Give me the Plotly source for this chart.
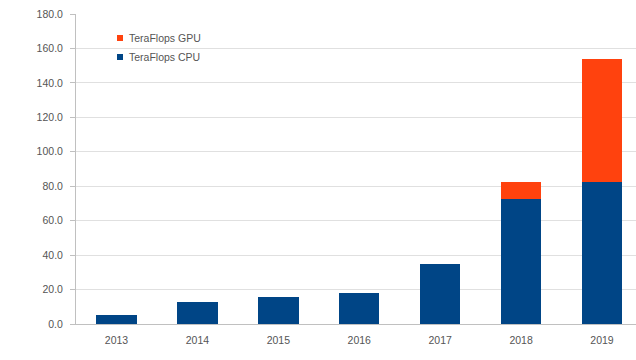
import plotly.graph_objects as go

years = ["2013", "2014", "2015", "2016", "2017", "2018", "2019"]
cpu_tflops = [5.2, 12.8, 15.7, 18.0, 34.9, 72.7, 82.6]
gpu_tflops = [0, 0, 0, 0, 0, 9.9, 71.4]
legend_labels = ["TeraFlops GPU", "TeraFlops CPU"]

CPU_COLOR = "#004586"
GPU_COLOR = "#ff420e"
TEXT = "#555555"
FONT = "Liberation Sans, Arial, sans-serif"

W, H = 636, 360
L, R, T, B = 76, 0, 14, 36
PW, PH = W - L - R, H - T - B


def px_x(px):
    return (px - L) / PW


def px_y(py):
    return (H - B - py) / PH


fig = go.Figure()
fig.add_trace(go.Bar(x=years, y=cpu_tflops, marker_color=CPU_COLOR,
                     marker_line_width=0, width=0.5, name="TeraFlops CPU"))
fig.add_trace(go.Bar(x=years, y=gpu_tflops, marker_color=GPU_COLOR,
                     marker_line_width=0, width=0.5, name="TeraFlops GPU"))

# Compact legend: small colour keys with labels beside them
shapes, annotations = [], []
for i, (label, color) in enumerate(zip(legend_labels, [GPU_COLOR, CPU_COLOR])):
    cy = 38 + i * 19
    shapes.append(dict(type="rect", xref="paper", yref="paper",
                       x0=px_x(117), x1=px_x(123), y0=px_y(cy + 3), y1=px_y(cy - 3),
                       fillcolor=color, line_width=0))
    annotations.append(dict(text=label, xref="paper", yref="paper",
                            x=px_x(127), y=px_y(cy), xanchor="left", yanchor="middle",
                            showarrow=False, font=dict(size=10.5, color=TEXT, family=FONT)))

fig.update_layout(
    width=W, height=H,
    margin=dict(l=L, r=R, t=T, b=B),
    barmode="stack",
    showlegend=False,
    plot_bgcolor="white", paper_bgcolor="white",
    font=dict(family=FONT, size=10.5, color=TEXT),
    shapes=shapes,
    annotations=annotations,
    xaxis=dict(type="category", range=[-0.5, 6.42], showgrid=False,
               showline=True, linecolor="#c0c0c0", linewidth=1,
               ticks="", ticklabelstandoff=6,
               tickfont=dict(size=10.5, color=TEXT)),
    yaxis=dict(range=[0, 180], dtick=20, tickformat=".1f",
               showgrid=True, gridcolor="#e0e0e0", gridwidth=1,
               showline=True, linecolor="#c0c0c0", linewidth=1,
               ticks="outside", ticklen=5, tickcolor="#c0c0c0",
               ticklabelstandoff=5,
               zeroline=False, tickfont=dict(size=10.5, color=TEXT)),
)

fig.write_html("out.html")
